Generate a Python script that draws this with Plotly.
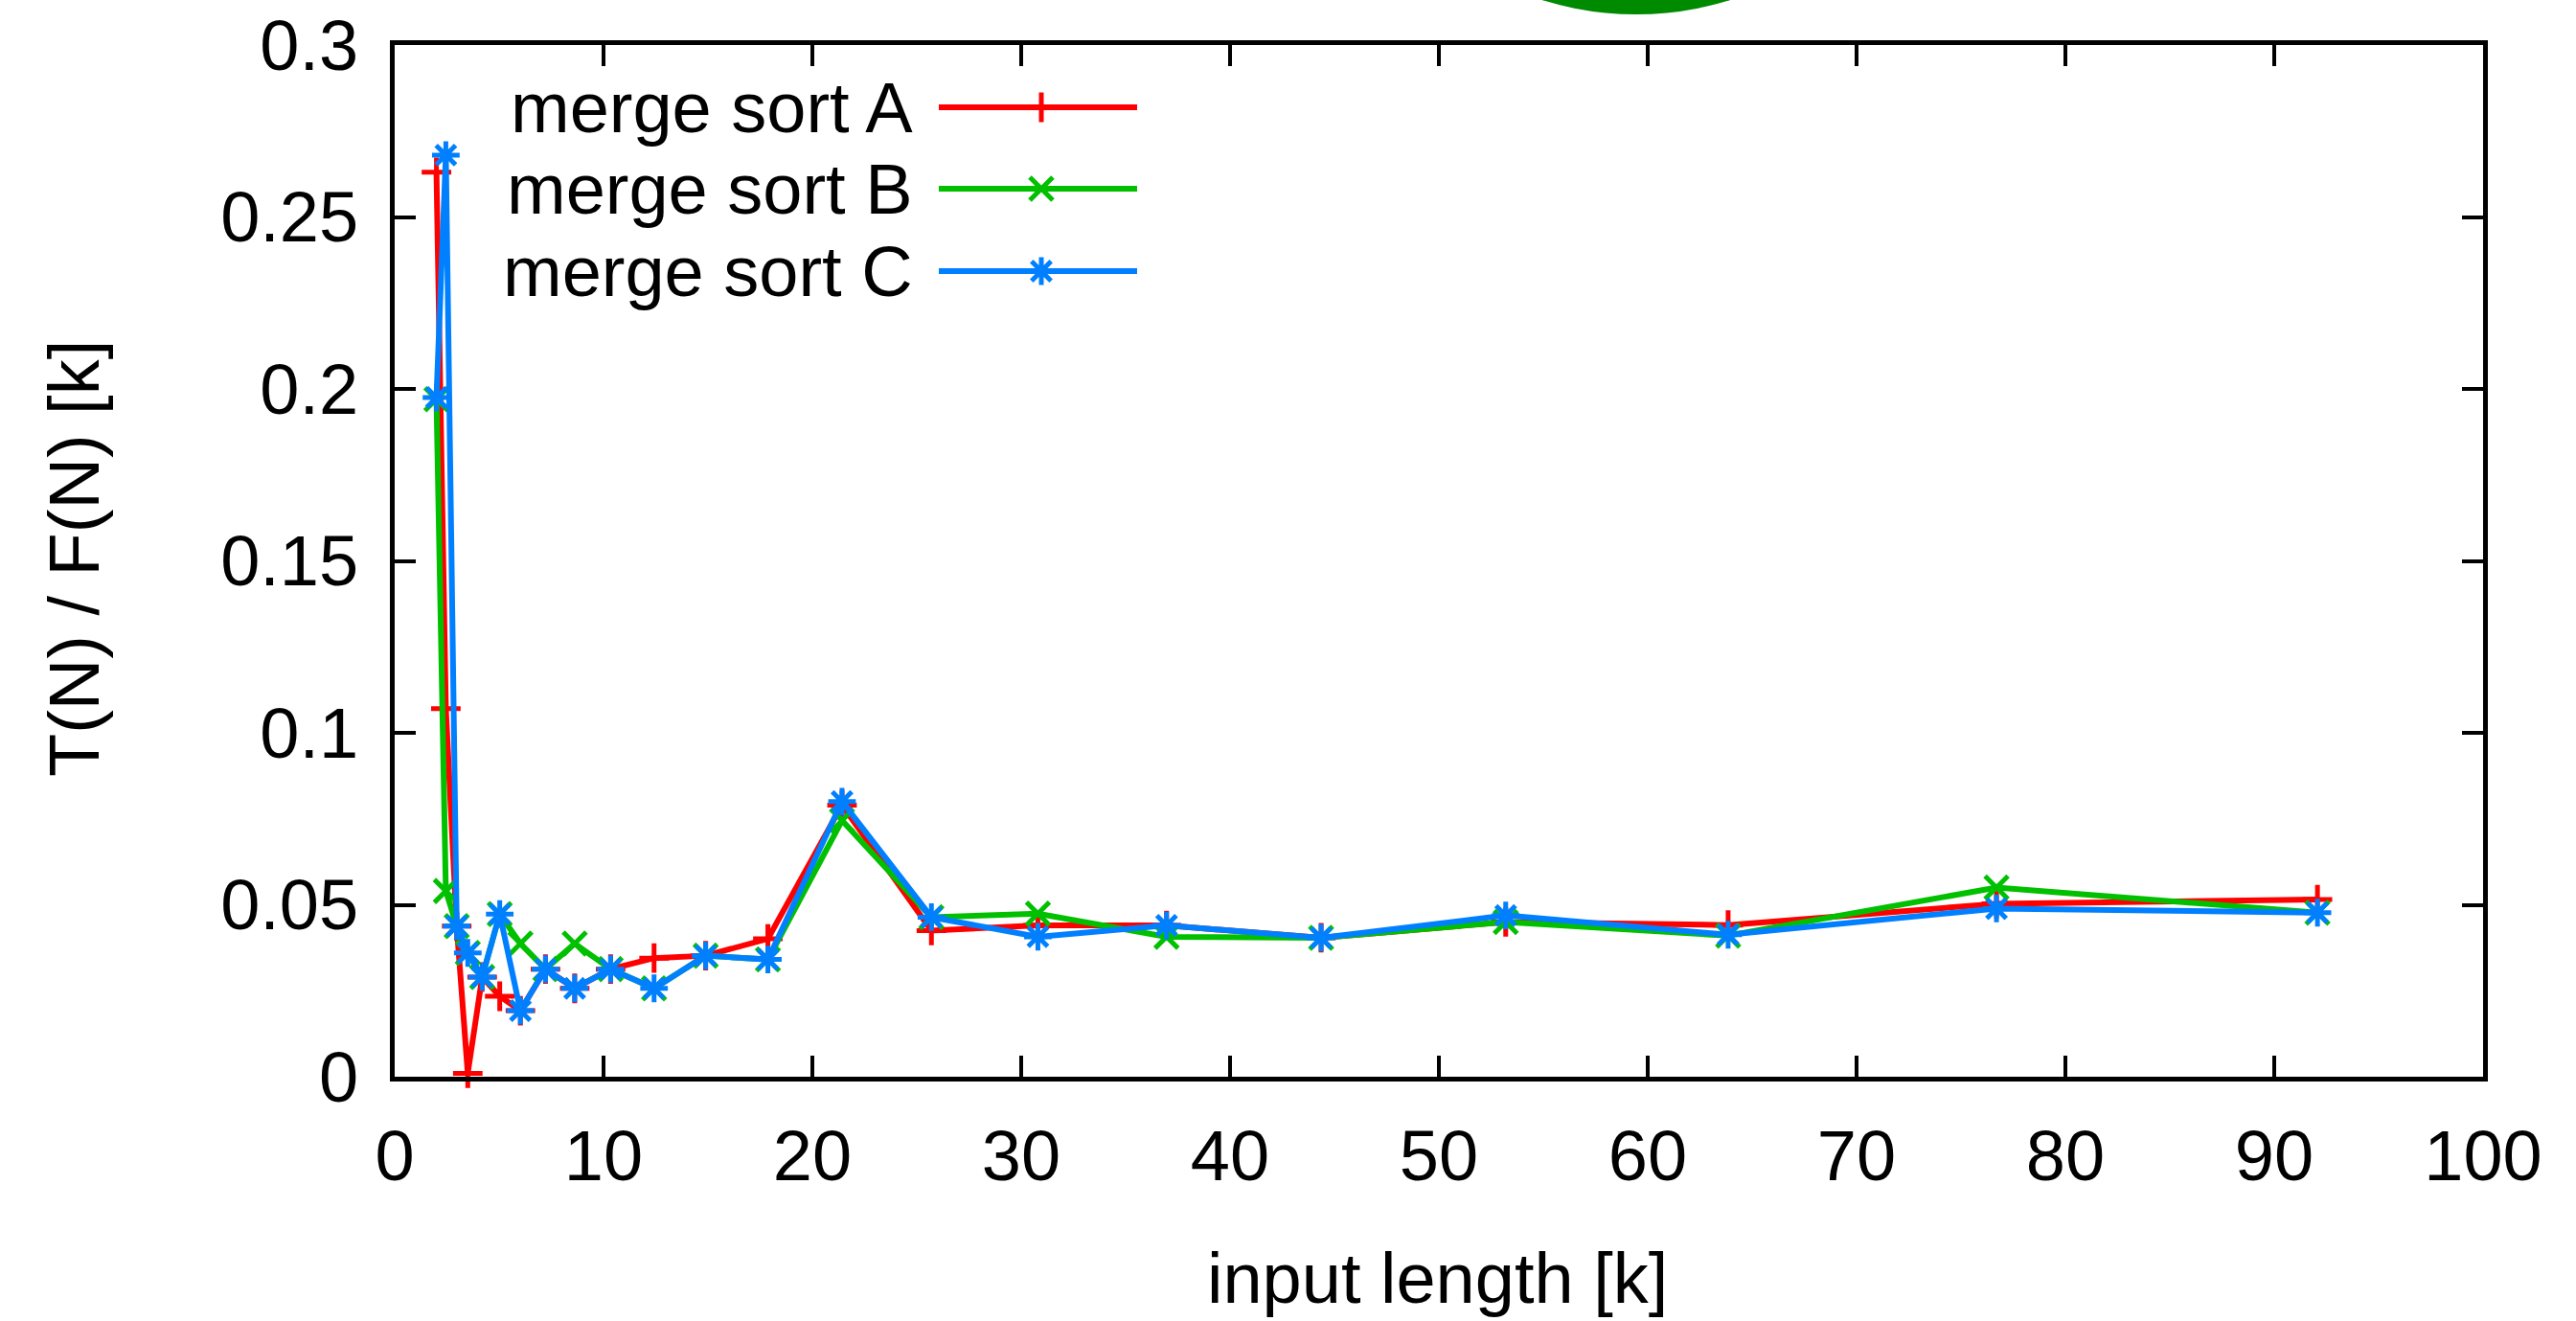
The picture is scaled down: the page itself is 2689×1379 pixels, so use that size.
import plotly.graph_objects as go

# ---------------- data ----------------
input_length_k = [2.0, 2.45, 2.97, 3.5, 4.19, 5.03, 6.02, 7.22, 8.62, 10.34, 12.42,
                  14.89, 17.87, 21.42, 25.7, 30.8, 36.96, 44.36, 53.2, 63.85, 76.7, 92.07]

merge_sort_a = [0.263, 0.107, 0.0438, 0.001, 0.029, 0.0234, 0.0192, 0.0313, 0.0257, 0.0313, 0.0345,
                0.0352, 0.0401, 0.079, 0.0425, 0.044, 0.044, 0.0404, 0.045, 0.0441, 0.0503, 0.0515]

merge_sort_b = [0.197, 0.054, 0.0438, 0.036, 0.029, 0.0473, 0.0387, 0.0313, 0.0387, 0.0313, 0.0257,
                0.0352, 0.0341, 0.0745, 0.0464, 0.0474, 0.0407, 0.0404, 0.045, 0.041, 0.055, 0.0477]

merge_sort_c = [0.1975, 0.268, 0.0438, 0.036, 0.029, 0.0473, 0.0192, 0.0313, 0.0257, 0.0313, 0.0257,
                0.0352, 0.0341, 0.080, 0.0464, 0.0407, 0.044, 0.0404, 0.0469, 0.0413, 0.0489, 0.0477]

series_names = ["merge sort A", "merge sort B", "merge sort C"]
x_tick_values = [0, 10, 20, 30, 40, 50, 60, 70, 80, 90, 100]
x_tick_labels = ["0", "10", "20", "30", "40", "50", "60", "70", "80", "90", "100"]
y_tick_values = [0, 0.05, 0.1, 0.15, 0.2, 0.25, 0.3]
y_tick_labels = ["0", "0.05", "0.1", "0.15", "0.2", "0.25", "0.3"]

# ---------------- layout geometry (page pixels) ----------------
W, H = 2689, 1379
L, R, T, B = 412, 2592, 47, 1124
FONT = "Liberation Sans, Arial, Helvetica, sans-serif"
FS = 74

def px_x(px):
    return (px - L) / (R - L)

def px_y(py):
    return (B - py) / (B - T)

colors = ["#ff0000", "#00c000", "#0080ff"]
symbols = ["cross-thin-open", "x-thin-open", "asterisk-open"]
msize = [22, 24, 24]
LW = 6
MLW = 5

fig = go.Figure()

for ys, name, c, s, ms in zip([merge_sort_a, merge_sort_b, merge_sort_c], series_names, colors, symbols, msize):
    fig.add_trace(go.Scatter(
        x=input_length_k, y=ys, name=name, mode="lines+markers",
        line=dict(color=c, width=LW),
        marker=dict(symbol=s, size=ms, color=c, line=dict(color=c, width=MLW)),
        cliponaxis=False, showlegend=False,
    ))

# gnuplot-style key: text right-aligned, sample line with marker to the right
row_y = [112, 197, 283]
for name, c, s, ms, ry in zip(series_names, colors, symbols, msize, row_y):
    yy = px_y(ry)
    fig.add_trace(go.Scatter(
        x=[px_x(980), px_x(1187)], y=[yy, yy], mode="lines",
        line=dict(color=c, width=LW), xaxis="x2", yaxis="y2", showlegend=False,
        hoverinfo="skip"))
    fig.add_trace(go.Scatter(
        x=[px_x(1087)], y=[yy], mode="markers",
        marker=dict(symbol=s, size=ms, color=c, line=dict(color=c, width=MLW)),
        xaxis="x2", yaxis="y2", showlegend=False, hoverinfo="skip"))
    fig.add_annotation(x=px_x(955), y=yy, xref="x2", yref="y2", text=name,
                       showarrow=False, xanchor="right", yanchor="middle",
                       font=dict(family=FONT, size=FS, color="black"))

# axis titles
fig.add_annotation(x=px_x(1500), y=px_y(1334), xref="paper", yref="paper",
                   text="input length [k]", showarrow=False,
                   xanchor="center", yanchor="middle",
                   font=dict(family=FONT, size=FS, color="black"))
fig.add_annotation(x=px_x(77), y=px_y(583), xref="paper", yref="paper",
                   text="T(N) / F(N) [k]", showarrow=False, textangle=-90,
                   xanchor="center", yanchor="middle",
                   font=dict(family=FONT, size=FS, color="black"))

# green blob at the top edge
cx, cr, cb = 1708, 330, 15
fig.add_shape(type="circle", xref="paper", yref="paper",
              x0=px_x(cx - cr), x1=px_x(cx + cr),
              y0=px_y(cb), y1=px_y(cb - 2 * cr),
              fillcolor="#008a00", line=dict(width=0), layer="above")

axis_common = dict(
    showgrid=False, zeroline=False, showline=True, linecolor="black", linewidth=5,
    mirror="allticks", ticks="inside", ticklen=22, tickwidth=4, tickcolor="black",
    tickfont=dict(family=FONT, size=FS, color="black"), automargin=False,
)

fig.update_layout(
    width=W, height=H,
    margin=dict(l=L, r=W - R, t=T, b=H - B, pad=0),
    paper_bgcolor="white", plot_bgcolor="white",
    xaxis=dict(range=[0, 100], tickmode="array", tickvals=x_tick_values,
               ticktext=x_tick_labels, ticklabelstandoff=14, **axis_common),
    yaxis=dict(range=[0, 0.3], tickmode="array", tickvals=y_tick_values,
               ticktext=y_tick_labels, ticklabelstandoff=18, **axis_common),
    xaxis2=dict(range=[0, 1], overlaying="x", visible=False, fixedrange=True),
    yaxis2=dict(range=[0, 1], overlaying="y", visible=False, fixedrange=True),
    showlegend=False,
)

fig.write_html(
    "out.html",
    config={"displayModeBar": False},
    post_script="document.body.style.margin='0';document.body.style.padding='0';"
                "document.documentElement.style.overflow='hidden';",
)
